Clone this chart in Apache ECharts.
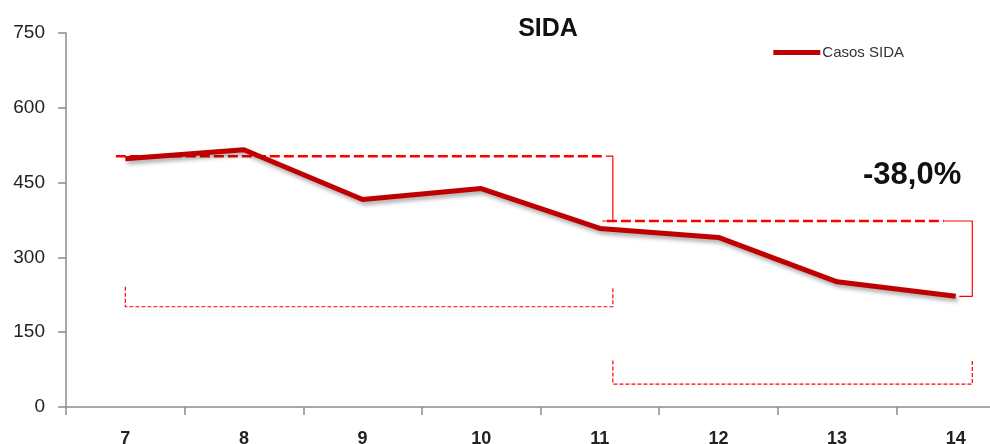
<!DOCTYPE html>
<html>
<head>
<meta charset="utf-8">
<script src="https://cdn.jsdelivr.net/npm/echarts@6/dist/echarts.min.js"></script>
<style>
  html, body { margin: 0; padding: 0; background: #fff; }
  #chart { width: 990px; height: 444px; }
</style>
</head>
<body>
<div id="chart"></div>
<script>
// Years (two-digit) and AIDS case counts
const years = ['7', '8', '9', '10', '11', '12', '13', '14'];
const casosSida = [498, 516, 416, 438, 358, 340, 251, 222];
const yTicks = [0, 150, 300, 450, 600, 750];

// Comparison brackets, in [category index, value] units
const levelEarly = [[-0.08, 503], [4.05, 503]];
const stepEarly = [[4.05, 503], [4.11, 503], [4.11, 373], [4.02, 373]];
const levelLate = [[4.06, 373], [6.9, 373]];
const stepLate = [[6.9, 373], [7.14, 373], [7.14, 222], [7.03, 222]];
const spanEarly = [[0, 241], [0, 201], [4.11, 201], [4.11, 241]];
const spanLate = [[4.11, 93], [4.11, 46], [7.14, 46], [7.14, 93]];

const changePct = ((casosSida[7] / casosSida[4] - 1) * 100).toFixed(1).replace('.', ',') + '%';

const chart = echarts.init(document.getElementById('chart'), null, { renderer: 'canvas' });

const red = '#FF0000';
function bracket(data, width, dash) {
  return {
    type: 'line', xAxisIndex: 1, yAxisIndex: 0, data: data,
    symbol: 'none', silent: true, z: 1,
    lineStyle: { color: red, width: width, type: dash }
  };
}

chart.setOption({
  animation: false,
  backgroundColor: '#fff',
  title: {
    text: 'SIDA', left: 548, top: 17, textAlign: 'center', padding: 0,
    textStyle: { fontFamily: 'Liberation Sans', fontWeight: 'bold', fontSize: 25, color: '#111' }
  },
  legend: {
    data: ['Casos SIDA'], right: 86, top: 45, padding: 0,
    itemWidth: 47, itemHeight: 5, itemGap: 4,
    icon: 'rect',
    textStyle: { fontFamily: 'Liberation Sans', fontSize: 15, color: '#333', padding: [0, 0, 0, -3] }
  },
  grid: { left: 66, width: 949, top: 33, height: 374, containLabel: false, outerBoundsMode: 'none' },
  xAxis: [{
    type: 'category', data: years, boundaryGap: true,
    axisLine: { lineStyle: { color: '#8c8c8c', width: 1.5 } },
    axisTick: { show: true, length: 8, lineStyle: { color: '#8c8c8c', width: 1.5 } },
    axisLabel: { margin: 23, fontFamily: 'Liberation Sans', fontWeight: 'bold', fontSize: 18, color: '#222' },
    splitLine: { show: false }
  }, {
    type: 'value', min: -0.5, max: 7.5, show: false
  }],
  yAxis: {
    type: 'value', min: yTicks[0], max: yTicks[yTicks.length - 1], interval: 150,
    axisLine: { show: true, onZero: false, lineStyle: { color: '#8c8c8c', width: 1.5 } },
    axisTick: { show: true, length: 8, lineStyle: { color: '#8c8c8c', width: 1.5 } },
    axisLabel: { margin: 21, fontFamily: 'Liberation Sans', fontSize: 19, color: '#222' },
    splitLine: { show: false }
  },
  graphic: [{
    type: 'text', left: 863, top: 160,
    style: { text: changePct, fontFamily: 'Liberation Sans', fontWeight: 'bold', fontSize: 31, fill: '#111' }
  }],
  series: [
    bracket(levelEarly, 2.5, [10, 4]),
    bracket(stepEarly, 1.2, 'solid'),
    bracket(levelLate, 2.5, [10, 4]),
    bracket(stepLate, 1.2, 'solid'),
    bracket(spanEarly, 1.2, [4, 2]),
    bracket(spanLate, 1.2, [4, 2]),
    {
      name: 'Casos SIDA', type: 'line', data: casosSida, xAxisIndex: 0, yAxisIndex: 0,
      symbol: 'none', z: 3,
      itemStyle: { color: '#C00000' },
      lineStyle: {
        color: '#C00000', width: 5,
        shadowColor: 'rgba(0,0,0,0.35)', shadowBlur: 4, shadowOffsetX: 2, shadowOffsetY: 3
      }
    }
  ]
});
</script>
</body>
</html>
